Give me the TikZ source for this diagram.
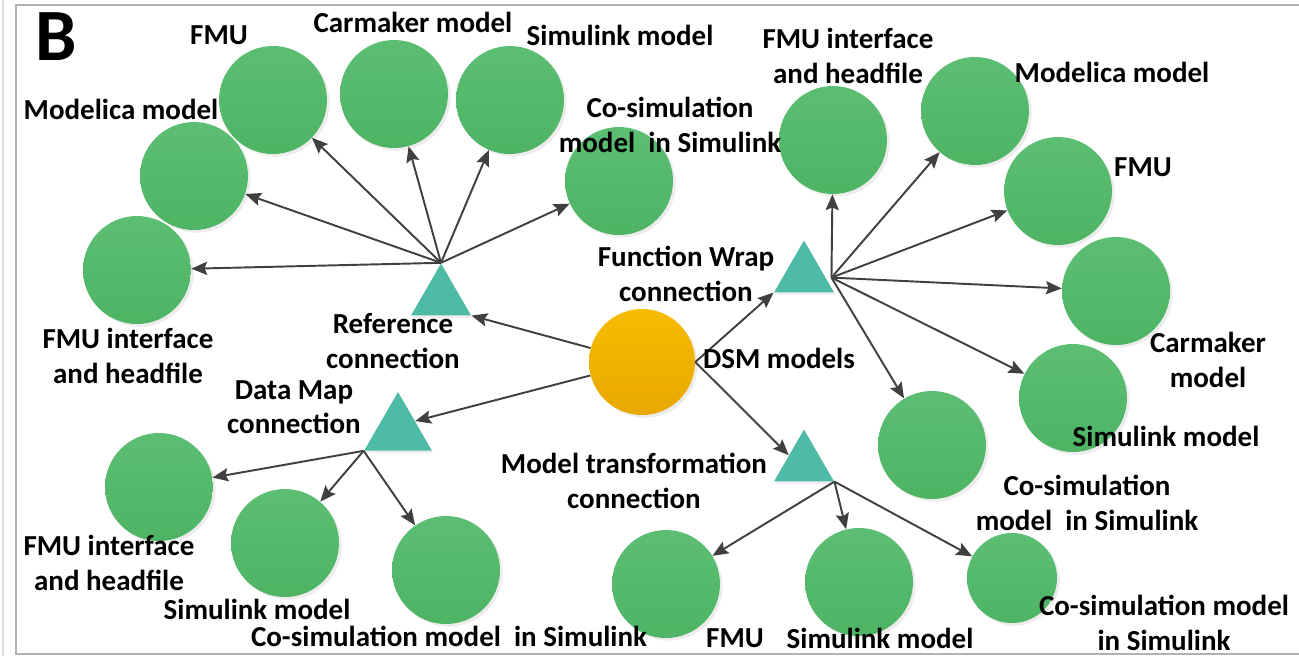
\documentclass[tikz,border=0pt]{standalone}
\usepackage{fontspec}
\setmainfont{Carlito}
\usetikzlibrary{shapes.geometric,arrows.meta,shadows}
\definecolor{leafgreen}{RGB}{92,190,115}
\definecolor{leafdark}{RGB}{78,180,100}
\definecolor{amber}{RGB}{248,188,0}
\definecolor{amberdark}{RGB}{232,168,0}
\definecolor{teal}{RGB}{78,187,166}
\definecolor{linkgray}{RGB}{64,64,64}
\begin{document}
\begin{tikzpicture}[x=0.02cm,y=-0.02cm,
  model/.style={circle,top color=leafgreen,bottom color=leafdark,draw=none,inner sep=0pt,minimum size=2.16cm,drop shadow={shadow xshift=1.5pt,shadow yshift=-1.5pt,opacity=0.15}},
  hub/.style={circle,top color=amber,bottom color=amberdark,draw=none,inner sep=0pt,minimum size=2.12cm,drop shadow={shadow xshift=1.5pt,shadow yshift=-1.5pt,opacity=0.15}},
  conn/.style={regular polygon,regular polygon sides=3,fill=teal,draw=none,inner sep=0pt,minimum size=1.38cm,drop shadow={shadow xshift=1pt,shadow yshift=-1.5pt,opacity=0.12}},
  lbl/.style={font=\fontsize{16.5}{19.5}\selectfont\bfseries,align=center,inner sep=0pt},
  link/.style={-{Stealth[length=9pt,width=7.5pt,inset=1.5pt]},line width=1.1pt,draw=linkgray}]

       \useasboundingbox (0,0) rectangle (1299,656);
       \fill[white] (0,0) rectangle (1299,656);
       \draw[gray!25,line width=0.8pt] (3,0) to (3,656);
       \draw[gray!60,line width=1.2pt] (1299,5) to (16,5) to (16,654) to (1299,654);

       \node[font=\fontsize{42}{42}\selectfont\bfseries,inner sep=0pt] (panel) at (56,37) {B};

       \node[hub] (dsm) at (642,362) {};
       \node[conn] (ref) at (441,298) {};
       \node[conn] (fw) at (804,275) {};
       \node[conn,minimum size=1.56cm] (dm) at (398,431) {};
       \node[conn] (mt) at (804,464) {};
       \coordinate (fwhub) at ([shift={(-3,-15)}]fw.corner 3);

       \node[model] (r1) at (273,100) {};
       \node[model] (r2) at (394,94) {};
       \node[model] (r3) at (510,100) {};
       \node[model] (r4) at (619,181) {};
       \node[model] (r5) at (194,176) {};
       \node[model] (r6) at (137,270) {};

       \node[model] (f1) at (833,140) {};
       \node[model] (f2) at (975,111) {};
       \node[model] (f3) at (1058,191) {};
       \node[model] (f4) at (1116,291) {};
       \node[model] (f5) at (1073,398) {};
       \node[model] (f6) at (932,445) {};

       \node[model] (d1) at (159,487) {};
       \node[model] (d2) at (285,543) {};
       \node[model] (d3) at (446,570) {};

       \node[model] (m1) at (666,584) {};
       \node[model] (m2) at (859,582) {};
       \node[model,minimum size=1.8cm] (m3) at (1012,578) {};

       \draw[link] (dsm) to (ref.corner 3);
       \draw[link] (dsm) to (dm.side 3);
       \draw[link] (dsm.east) to (fw.corner 2);
       \draw[link] (dsm.east) to (mt.side 1);

       \draw[link] (ref.corner 1) to (r1);
       \draw[link] (ref.corner 1) to (r2);
       \draw[link] (ref.corner 1) to (r3);
       \draw[link] (ref.corner 1) to (r4);
       \draw[link] (ref.corner 1) to (r5);
       \draw[link] (ref.corner 1) to (r6);

       \draw[link] (fwhub) to (f1);
       \draw[link] (fwhub) to (f2);
       \draw[link] (fwhub) to (f3);
       \draw[link] (fwhub) to (f4);
       \draw[link] (fwhub) to (f5);
       \draw[link] (fwhub) to (f6);

       \draw[link] (dm.corner 2) to (d1);
       \draw[link] (dm.corner 2) to (d2);
       \draw[link] (dm.corner 2) to (d3);

       \draw[link] (mt.corner 3) to (m1);
       \draw[link] (mt.corner 3) to (m2);
       \draw[link] (mt.corner 3) to (m3);

       \node[lbl] (tr1) at (219,35) {FMU};
       \node[lbl] (tr2) at (413,22) {Carmaker model};
       \node[lbl] (tr3) at (620,35) {Simulink model};
       \node[lbl] (tr4) at (670,125) {Co-simulation\\model~ in Simulink};
       \node[lbl] (tr5) at (121,109) {Modelica model};
       \node[lbl] (tr6) at (128,356) {FMU interface\\and headfile};
       \node[lbl] (tref) at (393,341) {Reference\\connection};

       \node[lbl] (tf1) at (848,56) {FMU interface\\and headfile};
       \node[lbl] (tf2) at (1112,72) {Modelica model};
       \node[lbl] (tf3) at (1143,167) {FMU};
       \node[lbl] (tf4) at (1208,360) {Carmaker\\model};
       \node[lbl] (tf5) at (1166,436) {Simulink model};
       \node[lbl] (tf6) at (1087,503) {Co-simulation\\model~ in Simulink};
       \node[lbl] (tfw) at (686,274) {Function Wrap\\connection};

       \node[lbl] (tdsm) at (779,358) {DSM models};

       \node[lbl] (tdm) at (294,407) {Data Map\\connection};
       \node[lbl] (td1) at (109,563) {FMU interface\\and headfile};
       \node[lbl] (td2) at (257,609) {Simulink model};
       \node[lbl] (td3) at (449,636) {Co-simulation model~ in Simulink};

       \node[lbl] (tmt) at (634,481) {Model transformation\\connection};
       \node[lbl] (tm1) at (735,638) {FMU};
       \node[lbl] (tm2) at (880,638) {Simulink model};
       \node[lbl] (tm3) at (1164,623) {Co-simulation model\\in Simulink};
     \end{tikzpicture}
\end{document}
